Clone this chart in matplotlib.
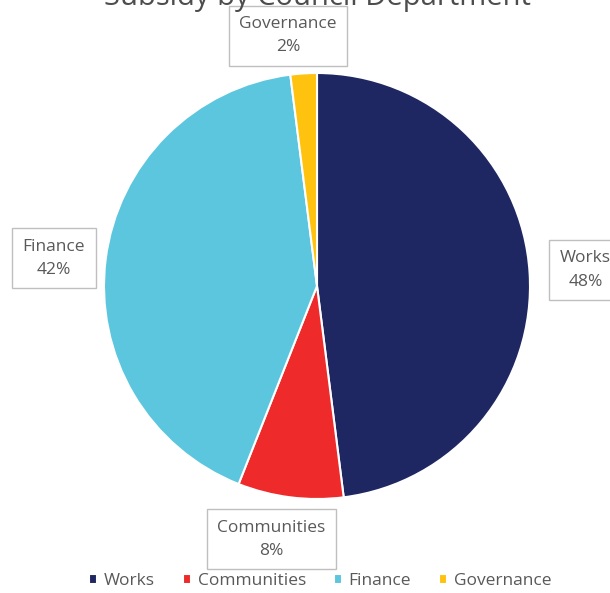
import matplotlib
matplotlib.use('Agg')
import matplotlib.pyplot as plt

plt.rcParams['font.family'] = ['Open Sans', 'DejaVu Sans']

# 部署別の補助金の構成比
departments = ['Works', 'Communities', 'Finance', 'Governance']
shares = [48, 8, 42, 2]
colors = ['#1E2761', '#EE2A2A', '#5CC6DE', '#FFC20E']

# ラベル枠の位置（円の座標系）
label_pos = [(1.26, 0.075), (-0.215, -1.19), (-1.235, 0.13), (-0.135, 1.175)]

fig = plt.figure(figsize=(6.10, 5.93), dpi=100)
fig.patch.set_facecolor('white')

cx, cy, r = 317, 286, 213
W, H = 610, 593
ax = fig.add_axes([(cx - r) / W, (H - cy - r) / H, 2 * r / W, 2 * r / H])
wedges, _ = ax.pie(shares, colors=colors, startangle=90, counterclock=False,
                   radius=1, wedgeprops=dict(edgecolor='white', linewidth=1.5))
ax.set_xlim(-1, 1)
ax.set_ylim(-1, 1)
ax.set_aspect('equal')
ax.axis('off')

for name, val, (lx, ly) in zip(departments, shares, label_pos):
    ax.text(lx, ly, f'{name}\n{val}%', ha='center', va='center',
            fontsize=12.5, color='#595959', linespacing=1.6,
            bbox=dict(boxstyle='square,pad=0.6', facecolor='white',
                      edgecolor='#BFBFBF', linewidth=1),
            clip_on=False, zorder=5)

# タイトル（上端で切れている）
fig.text(0.52, 1 - 5 / H, 'Subsidy by Council Department', ha='center',
         va='baseline', fontsize=21, color='#4D4D4D')

fig.legend(wedges, departments, loc='lower center', bbox_to_anchor=(0.525, -0.02),
           ncol=4, frameon=False, fontsize=12.5, handlelength=0.45, handleheight=0.45,
           handletextpad=0.4, columnspacing=1.6, labelcolor='#595959')

fig.savefig('out.png', dpi=100, facecolor='white')
